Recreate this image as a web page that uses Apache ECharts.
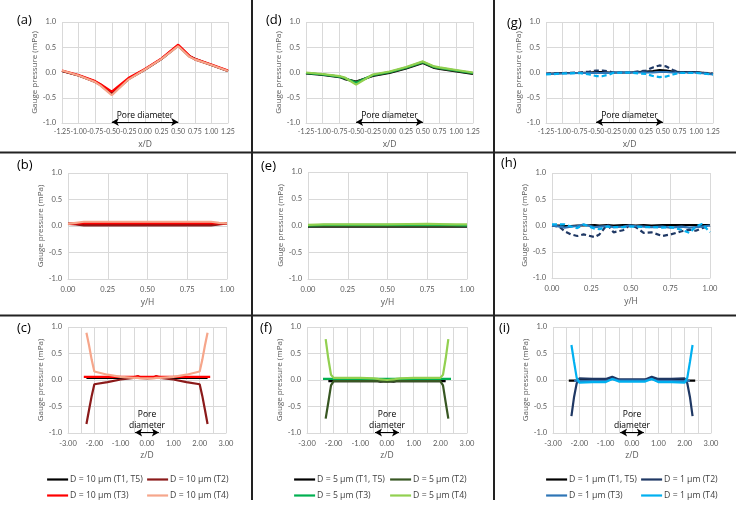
<!DOCTYPE html>
<html><head><meta charset="utf-8">
<script src="https://cdn.jsdelivr.net/npm/echarts@6/dist/echarts.min.js"></script>
<style>html,body{margin:0;padding:0;background:#fff}#c{width:746px;height:508px}</style>
</head><body><div id="c"></div><script>
// ---------- DATA ----------
// Row 1: x/D profiles
const xD = [-1.25, -1.0, -0.75, -0.67, -0.5, -0.25, 0, 0.25, 0.5, 0.67, 0.75, 1.0, 1.25];
const a_T1 = [0.03, -0.06, -0.18, -0.24, -0.41, -0.13, 0.06, 0.27, 0.53, 0.32, 0.27, 0.15, 0.03];
const a_T2 = [0.03, -0.06, -0.19, -0.25, -0.43, -0.13, 0.06, 0.27, 0.54, 0.32, 0.26, 0.15, 0.03];
const a_T3 = [0.04, -0.05, -0.17, -0.23, -0.38, -0.11, 0.07, 0.28, 0.55, 0.33, 0.27, 0.16, 0.04];
const a_T4 = [0.04, -0.06, -0.19, -0.26, -0.45, -0.14, 0.06, 0.27, 0.52, 0.31, 0.26, 0.15, 0.03];
const d_T1 = [-0.02, -0.05, -0.09, -0.13, -0.18, -0.07, -0.01, 0.08, 0.19, 0.09, 0.07, 0.02, -0.03];
const d_T2 = [-0.01, -0.04, -0.08, -0.12, -0.19, -0.06, 0.0, 0.09, 0.2, 0.1, 0.08, 0.03, -0.02];
const d_T3 = [-0.01, -0.04, -0.08, -0.11, -0.21, -0.05, 0.01, 0.1, 0.21, 0.11, 0.09, 0.04, -0.01];
const d_T4 = [0.0, -0.03, -0.07, -0.1, -0.24, -0.04, 0.02, 0.11, 0.22, 0.12, 0.1, 0.05, 0.0];
const xG = [-1.25, -1.0, -0.75, -0.6, -0.5, -0.4, -0.3, -0.25, 0, 0.25, 0.35, 0.45, 0.55, 0.65, 0.75, 1.0, 1.25];
const g_T1 = [-0.03, -0.01, -0.01, 0.0, 0.01, 0.01, 0.0, 0.0, 0.0, 0.02, 0.03, 0.05, 0.04, 0.02, 0.01, 0.01, -0.03];
const g_T2 = [-0.02, -0.01, 0.0, 0.02, 0.04, 0.04, 0.02, 0.0, 0.0, 0.04, 0.1, 0.14, 0.12, 0.05, 0.0, 0.0, -0.02];
const g_T3 = [-0.03, -0.02, -0.01, -0.01, -0.01, -0.01, -0.01, 0.0, 0.0, 0.0, 0.0, 0.01, 0.01, 0.0, 0.0, 0.0, -0.04];
const g_T4 = [-0.04, -0.02, -0.01, -0.04, -0.07, -0.07, -0.04, -0.01, 0.0, -0.03, -0.07, -0.09, -0.08, -0.04, -0.01, -0.01, -0.04];
// Row 2: y/H profiles
const xB = [0, 0.05, 0.1, 0.25, 0.5, 0.75, 0.9, 0.95, 1.0];
const b_T1 = [0.04, 0.04, 0.03, 0.03, 0.03, 0.03, 0.03, 0.04, 0.05];
const b_T2 = [0.04, 0.03, 0.01, 0.01, 0.01, 0.01, 0.01, 0.03, 0.05];
const b_T3 = [0.04, 0.05, 0.05, 0.05, 0.05, 0.05, 0.05, 0.05, 0.05];
const b_T4 = [0.04, 0.06, 0.08, 0.08, 0.08, 0.08, 0.08, 0.06, 0.05];
const xE = [0, 0.1, 0.25, 0.5, 0.75, 0.9, 1.0];
const e_T1 = [-0.02, -0.02, -0.02, -0.02, -0.02, -0.02, -0.02];
const e_T2 = [-0.01, -0.01, -0.01, -0.01, -0.01, -0.01, -0.01];
const e_T3 = [0.0, 0.01, 0.01, 0.01, 0.01, 0.01, 0.0];
const e_T4 = [0.01, 0.02, 0.02, 0.02, 0.03, 0.02, 0.02];
const xH = [0, 0.05, 0.08, 0.12, 0.16, 0.2, 0.27, 0.3, 0.35, 0.39, 0.45, 0.49, 0.53, 0.58, 0.63, 0.7, 0.75, 0.82, 0.87, 0.91, 0.95, 1.0];
const h_T1 = [0, 0, -0.01, -0.01, 0, 0, 0.01, 0, 0.01, 0, 0.01, 0.01, 0, 0.01, 0, 0.01, 0.01, 0.01, 0.01, 0.01, 0.01, 0.01];
const h_T2 = [0, -0.03, -0.11, -0.17, -0.2, -0.17, -0.22, -0.17, 0.02, -0.13, -0.09, 0, -0.03, -0.14, -0.13, -0.2, -0.17, -0.11, -0.08, -0.1, -0.05, 0];
const h_T3 = [0, -0.02, -0.04, -0.02, -0.01, 0.02, -0.03, -0.02, -0.01, -0.03, -0.02, 0, -0.01, -0.02, -0.03, -0.02, -0.04, -0.02, -0.04, -0.03, -0.02, 0.0];
const h_T4 = [0.02, 0.02, 0.02, -0.02, -0.05, 0.02, -0.06, -0.07, -0.02, -0.03, -0.03, -0.02, -0.02, -0.03, -0.03, -0.04, -0.03, -0.08, -0.14, -0.02, 0.03, -0.13];
// Row 3: z/D profiles
const xC = [-2.4, -2.3, -2.2, -2.1, -2.0, -1.5, -1.0, -0.5, -0.35, -0.25, 0, 0.25, 0.35, 0.5, 1.0, 1.5, 2.0, 2.1, 2.2, 2.3, 2.4];
const c_T1 = [null, 0.04, 0.04, 0.04, 0.04, 0.04, 0.04, 0.04, 0.06, 0.04, 0.04, 0.04, 0.06, 0.04, 0.04, 0.04, 0.04, 0.04, 0.04, 0.04, null];
const c_T2 = [null, -0.83, -0.56, -0.3, -0.08, -0.04, 0.01, 0.04, 0.07, 0.04, 0.03, 0.04, 0.07, 0.04, 0.01, -0.04, -0.08, -0.3, -0.56, -0.83, null];
const c_T3 = [0.06, 0.06, 0.06, 0.06, 0.06, 0.06, 0.06, 0.06, 0.07, 0.06, 0.06, 0.06, 0.07, 0.06, 0.06, 0.06, 0.06, 0.06, 0.06, 0.06, 0.06];
const c_T4 = [null, 0.89, 0.65, 0.38, 0.16, 0.1, 0.06, 0.04, 0.04, 0.03, 0.03, 0.03, 0.04, 0.04, 0.06, 0.1, 0.16, 0.38, 0.65, 0.89, null];
const f_T1 = [null, null, -0.02, -0.02, -0.02, -0.02, -0.02, -0.02, -0.02, -0.03, -0.02, -0.03, -0.02, -0.02, -0.02, -0.02, -0.02, -0.02, -0.02, null, null];
const f_T2 = [null, -0.73, -0.42, -0.1, -0.02, -0.02, -0.02, -0.02, -0.02, -0.02, -0.03, -0.02, -0.02, -0.02, -0.02, -0.02, -0.02, -0.1, -0.42, -0.73, null];
const f_T3 = [0.02, 0.02, 0.02, 0.02, 0.02, 0.02, 0.02, 0.02, 0.02, 0.02, 0.02, 0.02, 0.02, 0.02, 0.02, 0.02, 0.02, 0.02, 0.02, 0.02, 0.02];
const f_T4 = [null, 0.77, 0.4, 0.1, 0.04, 0.04, 0.04, 0.03, 0.02, 0.01, 0.0, 0.01, 0.02, 0.03, 0.04, 0.04, 0.04, 0.1, 0.4, 0.77, null];
const xI = [-2.4, -2.3, -2.2, -2.1, -2.0, -1.5, -1.0, -0.75, -0.5, 0, 0.5, 0.75, 1.0, 1.5, 2.0, 2.1, 2.2, 2.3, 2.4];
const i_T1 = [-0.01, -0.01, -0.01, -0.01, 0.0, 0.0, 0.0, 0.03, 0.0, 0.0, 0.0, 0.03, 0.0, 0.0, 0.0, -0.01, -0.01, -0.01, -0.01];
const i_T2 = [null, -0.68, -0.32, -0.06, 0.03, 0.02, 0.02, 0.06, 0.01, 0.01, 0.01, 0.06, 0.02, 0.02, 0.03, -0.06, -0.32, -0.68, null];
const i_T3 = [null, null, -0.01, -0.02, -0.02, -0.02, -0.02, 0.02, -0.01, -0.01, -0.01, 0.02, -0.02, -0.02, -0.02, -0.02, -0.01, null, null];
const i_T4 = [null, 0.66, 0.34, 0.04, -0.05, -0.04, -0.04, 0.02, -0.03, -0.03, -0.03, 0.02, -0.04, -0.04, -0.05, 0.04, 0.34, 0.66, null];
// Labels
const names10 = ['D = 10 µm (T1, T5)', 'D = 10 µm (T2)', 'D = 10 µm (T3)', 'D = 10 µm (T4)'];
const names5 = ['D = 5 µm (T1, T5)', 'D = 5 µm (T2)', 'D = 5 µm (T3)', 'D = 5 µm (T4)'];
const names1 = ['D = 1 µm (T1, T5)', 'D = 1 µm (T2)', 'D = 1 µm (T3)', 'D = 1 µm (T4)'];
const panelLabels = ['(a)', '(d)', '(g)', '(b)', '(e)', '(h)', '(c)', '(f)', '(i)'];
const xNames = ['x/D', 'x/D', 'x/D', 'y/H', 'y/H', 'y/H', 'z/D', 'z/D', 'z/D'];
const yName = 'Gauge pressure (mPa)';
const poreLabel1 = 'Pore diameter';
const poreLabel2 = 'Pore\ndiameter';
const poreSpanX = [-0.5, 0.5];
const poreSpanZ = [-0.45, 0.45];

// ---------- STYLE / LAYOUT ----------
const FF = "'Open Sans', 'Noto Sans', sans-serif";
const FT = "Lato, 'Open Sans', sans-serif";
const col10 = ['#000000', '#8B1A1A', '#FF0000', '#F6A68B'];
const col5 = ['#000000', '#385723', '#00B050', '#92D050'];
const col1 = ['#000000', '#1F3864', '#2E75B6', '#00B0F0'];
const gridPos = [
  {left: 62, top: 22, width: 166, height: 101},
  {left: 306, top: 22, width: 167, height: 101},
  {left: 546, top: 22, width: 167, height: 101},
  {left: 68, top: 173, width: 159, height: 106},
  {left: 308, top: 172, width: 159, height: 107},
  {left: 552, top: 173, width: 158, height: 105},
  {left: 68, top: 327, width: 158, height: 106},
  {left: 307, top: 327, width: 160, height: 106},
  {left: 553, top: 327, width: 158, height: 106}
];
const labelPos = [[17,14],[266,14],[507,17],[17,159],[261,160],[501,157],[17,322],[260,322],[499,322]];
const yNameGap = [16, 22, 21, 20, 22, 17, 21, 21, 21];

const panels = [
  {x: xD, ys: [a_T1, a_T2, a_T3, a_T4], names: names10, cols: col10, dash: [0,0,0,0], kind: 'x'},
  {x: xD, ys: [d_T1, d_T2, d_T3, d_T4], names: names5, cols: col5, dash: [0,0,0,0], kind: 'x'},
  {x: xG, ys: [g_T1, g_T2, g_T3, g_T4], names: names1, cols: col1, dash: [0,1,0,1], kind: 'x'},
  {x: xB, ys: [b_T1, b_T2, b_T3, b_T4], names: names10, cols: col10, dash: [0,0,0,0], kind: 'y'},
  {x: xE, ys: [e_T1, e_T2, e_T3, e_T4], names: names5, cols: col5, dash: [0,0,0,0], kind: 'y'},
  {x: xH, ys: [h_T1, h_T2, h_T3, h_T4], names: names1, cols: col1, dash: [0,1,0,1], kind: 'y'},
  {x: xC, ys: [c_T1, c_T2, c_T3, c_T4], names: names10, cols: col10, dash: [0,0,0,0], kind: 'z'},
  {x: xC, ys: [f_T1, f_T2, f_T3, f_T4], names: names5, cols: col5, dash: [0,0,0,0], kind: 'z'},
  {x: xI, ys: [i_T1, i_T2, i_T3, i_T4], names: names1, cols: col1, dash: [0,0,0,0], kind: 'z'}
];

function fmt(v, d) {
  const s = Math.abs(v).toFixed(d);
  return (v < -1e-9 ? '-' : '') + s;
}

const grids = [], xAxes = [], yAxes = [], series = [], titles = [];
panels.forEach((p, i) => {
  grids.push(Object.assign({containLabel: false}, gridPos[i]));
  const isX = p.kind === 'x', isY = p.kind === 'y', isZ = p.kind === 'z';
  xAxes.push({
    gridIndex: i, type: 'value',
    min: isX ? -1.25 : (isY ? 0 : -3), max: isX ? 1.25 : (isY ? 1 : 3),
    interval: isX ? 0.25 : (isY ? 0.25 : 1),
    name: xNames[i], nameLocation: 'middle', nameGap: isX ? 17 : (isY ? 19 : 18),
    nameTextStyle: {fontSize: 8.5, color: '#595959', fontFamily: FF},
    axisLine: {show: true, onZero: false, lineStyle: {color: '#d9d9d9'}},
    axisTick: {show: false},
    minorTick: {show: false, splitNumber: 2},
    minorSplitLine: {show: isZ, lineStyle: {color: '#d9d9d9'}},
    axisLabel: {fontSize: isX ? 7 : 7.5, color: '#595959', fontFamily: FT, margin: isX ? 5 : 7,
      formatter: v => fmt(v, 2), showMinLabel: true, showMaxLabel: true, hideOverlap: false},
    splitLine: {show: true, lineStyle: {color: '#d9d9d9', width: 1}}
  });
  yAxes.push({
    gridIndex: i, type: 'value', min: -1, max: 1, interval: 0.5,
    name: yName, nameLocation: 'middle', nameGap: yNameGap[i],
    nameTextStyle: {fontSize: 8, color: '#595959', fontFamily: FF},
    axisLine: {show: false}, axisTick: {show: false},
    axisLabel: {fontSize: 7.5, color: '#595959', fontFamily: FT, margin: 6, formatter: v => fmt(v, 1)},
    splitLine: {lineStyle: {color: '#d9d9d9', width: 1}}
  });
  titles.push({text: panelLabels[i], left: labelPos[i][0], top: labelPos[i][1], padding: 0,
    textStyle: {fontSize: 13, fontWeight: 'normal', color: '#000', fontFamily: FF}});
  p.ys.forEach((ys, k) => {
    const data = [];
    p.x.forEach((xv, j) => { if (ys[j] !== null) data.push([xv, ys[j]]); });
    const s = {
      type: 'line', name: p.names[k], xAxisIndex: i, yAxisIndex: i, data: data,
      symbol: 'none', smooth: false, silent: true, z: 2 + k,
      lineStyle: {color: p.cols[k], width: 2.2, type: p.dash[k] ? [5, 3] : 'solid'},
      itemStyle: {color: p.cols[k]}
    };
    if (k === 0 && !isY) {
      const span = isX ? poreSpanX : poreSpanZ;
      const yy = isX ? -0.98 : -0.99;
      s.markLine = {
        silent: true, symbol: ['arrow', 'arrow'], symbolSize: [6, 7], animation: false,
        lineStyle: {color: '#000', width: 1, type: 'solid'},
        label: {show: true, position: 'middle', formatter: isX ? poreLabel1 : poreLabel2,
          color: '#000', fontSize: 8.5, fontFamily: FF, distance: 1, lineHeight: 11},
        data: [[{coord: [span[0], yy]}, {coord: [span[1], yy]}]]
      };
    }
    series.push(s);
  });
});

const legendSpec = [
  [names10[0], 46, 475], [names10[1], 146, 475], [names10[2], 46, 491], [names10[3], 146, 491],
  [names5[0], 293, 475], [names5[1], 389, 475], [names5[2], 293, 491], [names5[3], 389, 491],
  [names1[0], 545, 475], [names1[1], 640, 475], [names1[2], 545, 491], [names1[3], 640, 491]
];
const legends = legendSpec.map(l => ({
  data: [l[0]], left: l[1], top: l[2], padding: 0, itemWidth: 21, itemHeight: 8, itemGap: 0,
  selectedMode: false, lineStyle: {type: 'solid', width: 2.2}, itemStyle: {opacity: 0},
  textStyle: {fontSize: 8.7, color: '#404040', fontFamily: FF, padding: [0, 0, 0, -3]}
}));

const divider = {stroke: '#222', lineWidth: 2};
const graphic = [
  {type: 'line', shape: {x1: 252, y1: 0, x2: 252, y2: 500}, style: divider, silent: true},
  {type: 'line', shape: {x1: 494, y1: 0, x2: 494, y2: 500}, style: divider, silent: true},
  {type: 'line', shape: {x1: 0, y1: 152.5, x2: 736, y2: 152.5}, style: divider, silent: true},
  {type: 'line', shape: {x1: 0, y1: 315.5, x2: 736, y2: 315.5}, style: divider, silent: true}
];

const chart = echarts.init(document.getElementById('c'), null, {renderer: 'canvas'});
chart.setOption({
  animation: false, backgroundColor: '#fff',
  title: titles, grid: grids, xAxis: xAxes, yAxis: yAxes,
  legend: legends, series: series, graphic: graphic
});
</script></body></html>
